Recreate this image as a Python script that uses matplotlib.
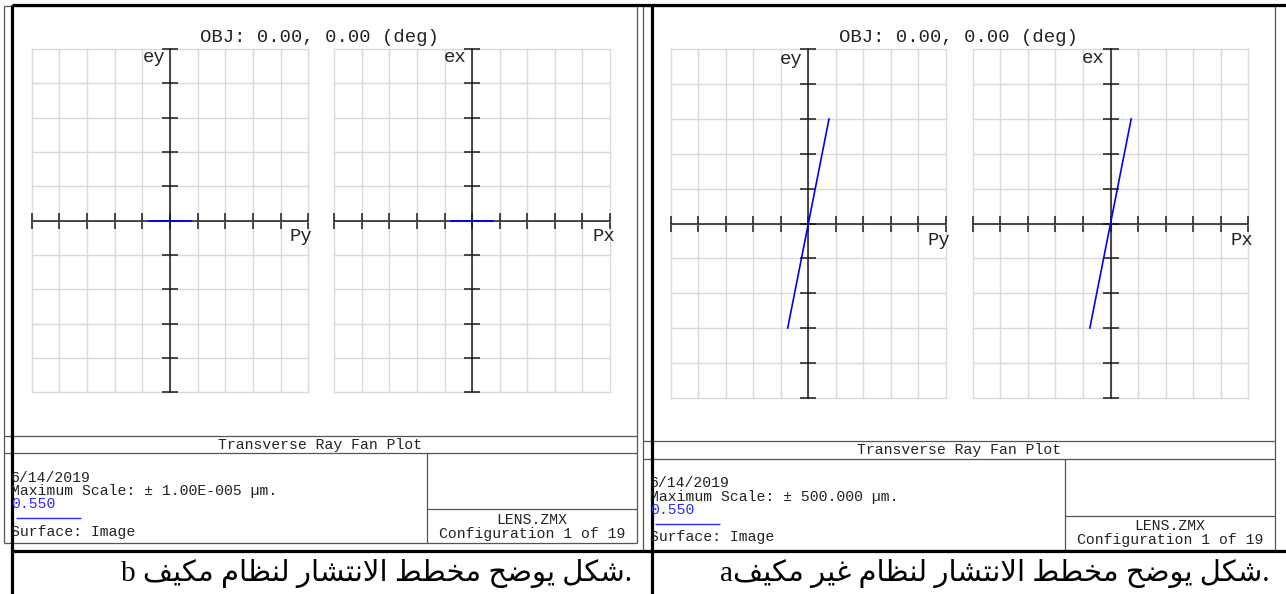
import matplotlib
matplotlib.use("Agg")
import matplotlib.pyplot as plt
import numpy as np

MONO = ['Liberation Mono', 'DejaVu Sans Mono']
plt.rcParams['font.family'] = MONO

# ---------------------------------------------------------------- data
# Transverse ray fan: normalised pupil coordinate vs. ray error (µm)
pupil = [-0.15, 0.15]

# adapted system (b): aberration-free fan
ey_adapted = [0.0, 0.0]
ex_adapted = [0.0, 0.0]
scale_adapted = 1.00e-5          # maximum scale, µm

# non-adapted system (a)
ey_plain = [-300.0, 300.0]
ex_plain = [-300.0, 300.0]
scale_plain = 500.0              # maximum scale, µm

n_div = 10                       # grid divisions per axis

title_text = "OBJ: 0.00, 0.00 (deg)"
plot_name = "Transverse Ray Fan Plot"
date_text = "6/14/2019"
scale_texts = ["Maximum Scale: \u00b1 1.00E-005 \u00b5m.",
               "Maximum Scale: \u00b1 500.000 \u00b5m."]
wavelength = "0.550"
surface_text = "Surface: Image"
lens_file = "LENS.ZMX"
config_text = "Configuration 1 of 19"

caption_b = "\u0634\u0643\u0644 \u064a\u0648\u0636\u062d \u0645\u062e\u0637\u0637 \u0627\u0644\u0627\u0646\u062a\u0634\u0627\u0631 \u0644\u0646\u0638\u0627\u0645 \u0645\u0643\u064a\u0641"
caption_a = "\u0634\u0643\u0644 \u064a\u0648\u0636\u062d \u0645\u062e\u0637\u0637 \u0627\u0644\u0627\u0646\u062a\u0634\u0627\u0631 \u0644\u0646\u0638\u0627\u0645 \u063a\u064a\u0631 \u0645\u0643\u064a\u0641"

# ---------------------------------------------------------------- arabic shaping
# presentation forms: isolated, final, initial, medial
FORMS = {
    '\u0627': (0xFE8D, 0xFE8E, None, None),
    '\u062a': (0xFE95, 0xFE96, 0xFE97, 0xFE98),
    '\u062d': (0xFEA1, 0xFEA2, 0xFEA3, 0xFEA4),
    '\u062e': (0xFEA5, 0xFEA6, 0xFEA7, 0xFEA8),
    '\u0631': (0xFEAD, 0xFEAE, None, None),
    '\u0633': (0xFEB1, 0xFEB2, 0xFEB3, 0xFEB4),
    '\u0634': (0xFEB5, 0xFEB6, 0xFEB7, 0xFEB8),
    '\u0636': (0xFEBD, 0xFEBE, 0xFEBF, 0xFEC0),
    '\u0637': (0xFEC1, 0xFEC2, 0xFEC3, 0xFEC4),
    '\u0638': (0xFEC5, 0xFEC6, 0xFEC7, 0xFEC8),
    '\u063a': (0xFECD, 0xFECE, 0xFECF, 0xFED0),
    '\u0641': (0xFED1, 0xFED2, 0xFED3, 0xFED4),
    '\u0643': (0xFED9, 0xFEDA, 0xFEDB, 0xFEDC),
    '\u0644': (0xFEDD, 0xFEDE, 0xFEDF, 0xFEE0),
    '\u0645': (0xFEE1, 0xFEE2, 0xFEE3, 0xFEE4),
    '\u0646': (0xFEE5, 0xFEE6, 0xFEE7, 0xFEE8),
    '\u0648': (0xFEED, 0xFEEE, None, None),
    '\u064a': (0xFEF1, 0xFEF2, 0xFEF3, 0xFEF4),
}


def dual(ch):
    return ch in FORMS and FORMS[ch][2] is not None


def shape_rtl(text):
    """Contextual glyph forms, returned in visual (left-to-right) order."""
    out = []
    i = 0
    while i < len(text):
        ch = text[i]
        prev = text[i - 1] if i > 0 else ' '
        joined_before = dual(prev) and ch in FORMS
        if ch == '\u0644' and i + 1 < len(text) and text[i + 1] == '\u0627':
            out.append(chr(0xFEFC if joined_before else 0xFEFB))
            i += 2
            continue
        if ch not in FORMS:
            out.append(ch)
            i += 1
            continue
        nxt = text[i + 1] if i + 1 < len(text) else ' '
        joined_after = dual(ch) and nxt in FORMS
        iso, fin, ini, med = FORMS[ch]
        if joined_before and joined_after:
            g = med
        elif joined_before:
            g = fin
        elif joined_after:
            g = ini
        else:
            g = iso
        out.append(chr(g))
        i += 1
    return ''.join(reversed(out))


# ---------------------------------------------------------------- figure
W, H = 1286, 594
fig = plt.figure(figsize=(W / 100, H / 100), dpi=100)
bg = fig.add_axes([0, 0, 1, 1])
bg.set_xlim(0, W)
bg.set_ylim(H, 0)
bg.axis('off')

FRAME = '#555555'
INK = '#222222'
BLUE = '#2a2aff'


def hline(y, x0, x1, **kw):
    bg.plot([x0, x1], [y, y], solid_capstyle='butt', **kw)


def vline(x, y0, y1, **kw):
    bg.plot([x, x], [y0, y1], solid_capstyle='butt', **kw)


def px_axes(x0, y0, x1, y1):
    return fig.add_axes([x0 / W, 1 - y1 / H, (x1 - x0) / W, (y1 - y0) / H])


def fan(rect, p, e, scale, ylab, xlab, ylab_off, xlab_off):
    ax = px_axes(*rect)
    ax.set_xlim(-1, 1)
    ax.set_ylim(-scale, scale)
    ax.set_xticks(np.linspace(-1, 1, n_div + 1))
    ax.set_yticks(np.linspace(-scale, scale, n_div + 1))
    ax.grid(True, color='#dadada', lw=1.0, clip_on=False)
    ax.set_axisbelow(True)
    ax.patch.set_alpha(0)
    for s in ('top', 'right'):
        ax.spines[s].set_visible(False)
    ax.spines['left'].set_position(('data', 0))
    ax.spines['bottom'].set_position(('data', 0))
    for s in ('left', 'bottom'):
        ax.spines[s].set_color('#1a1a1a')
        ax.spines[s].set_linewidth(1.1)
    ax.tick_params(direction='inout', length=11, width=1.1, color='#1a1a1a',
                   labelbottom=False, labelleft=False)
    ax.plot(p, e, color='#0000ff', lw=1.2, zorder=5, clip_on=False)
    ax.annotate(ylab, xy=(0, scale), xycoords='data', xytext=ylab_off,
                textcoords='offset pixels', ha='right', va='center',
                fontsize=13.6, color=INK, family=MONO)
    ax.annotate(xlab, xy=(1, 0), xycoords='data', xytext=xlab_off,
                textcoords='offset pixels', ha='right', va='center',
                fontsize=13.6, color=INK, family=MONO)
    return ax


# ---- panel frames (ray fan report windows)
panels = [
    dict(x0=4, x1=637, top=6, bot=542.7, h1=435.7, h2=453.3, div=427, hb=509.3,
         text_x=11, rows=(477.5, 491, 504.5, 518, 532), box=(519.5, 534),
         scale_text=scale_texts[0]),
    dict(x0=643, x1=1275, top=6, bot=550, h1=440.7, h2=459.3, div=1065, hb=516,
         text_x=650, rows=(483, 497, 510.5, 524, 537.5), box=(526, 540),
         scale_text=scale_texts[1]),
]

for pnl in panels:
    x0, x1 = pnl['x0'], pnl['x1']
    kw = dict(color=FRAME, lw=0.9)
    hline(pnl['top'], x0, x1, **kw)
    hline(pnl['bot'], x0, x1, **kw)
    vline(x0, pnl['top'], pnl['bot'], **kw)
    vline(x1, pnl['top'], pnl['bot'], **kw)
    hline(pnl['h1'], x0, x1, **kw)
    hline(pnl['h2'], x0, x1, **kw)
    vline(pnl['div'], pnl['h2'], pnl['bot'], **kw)
    hline(pnl['hb'], pnl['div'], x1, **kw)

    cx = (x0 + x1) / 2
    bg.text(cx, (pnl['h1'] + pnl['h2']) / 2, plot_name, ha='center', va='center',
            fontsize=10.6, color=INK)
    tx = pnl['text_x']
    r = pnl['rows']
    bg.text(tx, r[0], date_text, ha='left', va='center', fontsize=10.6, color=INK)
    bg.text(tx, r[1], pnl['scale_text'], ha='left', va='center', fontsize=10.6, color=INK)
    bg.text(tx, r[2], wavelength, ha='left', va='center', fontsize=10.6, color=BLUE)
    hline(r[3], tx + 5, tx + 70, color=BLUE, lw=1.0)
    bg.text(tx, r[4], surface_text, ha='left', va='center', fontsize=10.6, color=INK)
    bx = (pnl['div'] + x1) / 2
    bg.text(bx, pnl['box'][0], lens_file, ha='center', va='center', fontsize=10.6, color=INK)
    bg.text(bx, pnl['box'][1], config_text, ha='center', va='center', fontsize=10.6, color=INK)

bg.text(319.5, 37, title_text, ha='center', va='center', fontsize=13.6, color=INK)
bg.text(958, 37, title_text, ha='center', va='center', fontsize=13.6, color=INK)

# ---- ray fans
fan((31.7, 49, 308.3, 392.3), pupil, ey_adapted, scale_adapted, 'ey', 'Py', (-4, -9), (4, -16))
fan((334.3, 49, 610, 392.3), pupil, ex_adapted, scale_adapted, 'ex', 'Px', (-6, -9), (5, -16))
fan((670.7, 49.3, 946, 397.7), pupil, ey_plain, scale_plain, 'ey', 'Py', (-6, -10), (4, -17))
fan((972.7, 49.3, 1248.3, 397.7), pupil, ex_plain, scale_plain, 'ex', 'Px', (-6, -9), (5, -17))

# ---- table borders
TK = dict(color='black', lw=2.3)
hline(5, 12, W, **TK)
vline(12, 5, H, **TK)
vline(651.7, 5, H, **TK)
hline(550.7, 12, W, **TK)

# ---- captions
cap_font = ['Liberation Serif', 'DejaVu Sans']
bg.text(632, 573, 'b ' + shape_rtl(caption_b) + '.', ha='right', va='center',
        fontsize=21, family=cap_font, color='black')
bg.text(1270, 573, 'a' + shape_rtl(caption_a) + '.', ha='right', va='center',
        fontsize=21, family=cap_font, color='black')

fig.savefig('out.png', dpi=100, facecolor='white')
